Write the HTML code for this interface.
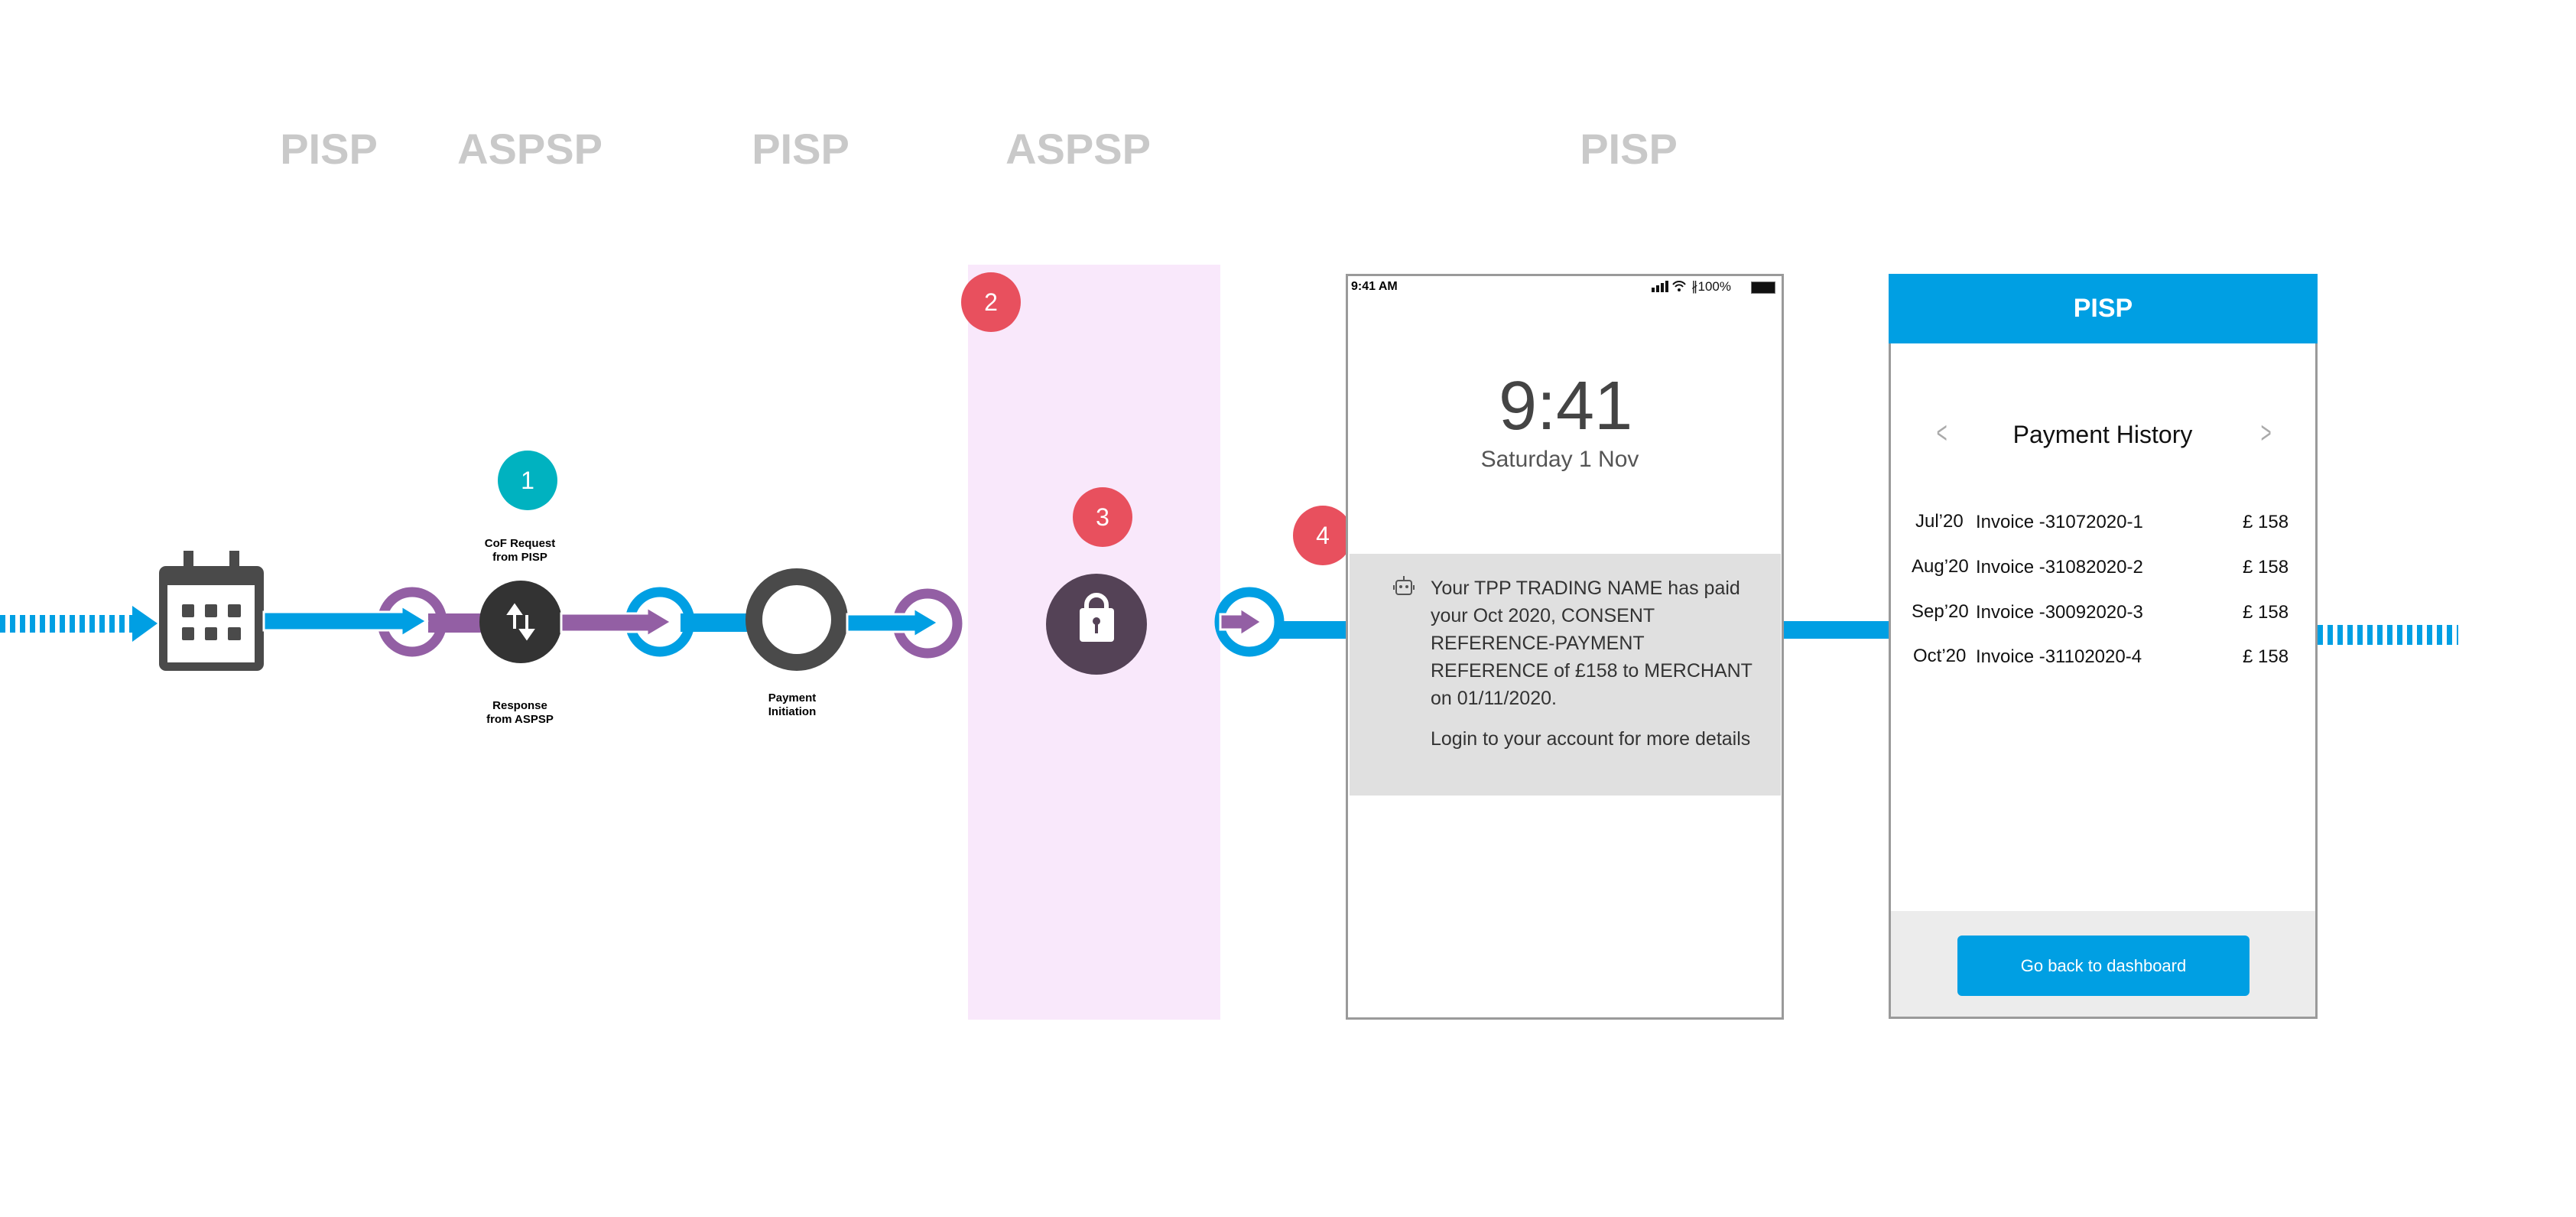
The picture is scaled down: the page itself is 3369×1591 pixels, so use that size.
<!DOCTYPE html>
<html><head><meta charset="utf-8"><style>
body{margin:0;width:3369px;height:1591px;background:#fff;position:relative;overflow:hidden;font-family:"Liberation Sans",sans-serif}
.a{position:absolute}
.hd{position:absolute;top:162px;font-size:56px;font-weight:bold;color:#c9c9c9;transform:translateX(-50%)}
.lbl{position:absolute;font-size:15px;font-weight:bold;text-align:center;line-height:18px;transform:translateX(-50%);color:#000}
.badge{position:absolute;width:78px;height:78px;border-radius:50%;color:#fff;font-size:32px;text-align:center;line-height:78px}
.nt{position:absolute;left:1871px;font-size:25px;color:#333;line-height:36px}
.row{position:absolute;font-size:24px;color:#111}
</style></head><body>
<div class="hd" style="left:430px">PISP</div>
<div class="hd" style="left:693px">ASPSP</div>
<div class="hd" style="left:1047px">PISP</div>
<div class="hd" style="left:1410px">ASPSP</div>
<div class="hd" style="left:2130px">PISP</div>

<div class="a" style="left:1266px;top:346px;width:330px;height:987px;background:#f9e8fb"></div>

<div class="badge" style="left:651px;top:589px;background:#00b2c0">1</div>
<div class="badge" style="left:1257px;top:356px;background:#e8505e">2</div>
<div class="badge" style="left:1403px;top:637px;background:#e8505e">3</div>
<div class="badge" style="left:1691px;top:661px;background:#e8505e">4</div>

<div class="a" style="left:0;top:804px;width:173px;height:23px;background:repeating-linear-gradient(90deg,#009fe3 0 7px,transparent 7px 13px)"></div>
<div class="a" style="left:3031px;top:817px;width:184px;height:26px;background:repeating-linear-gradient(90deg,#009fe3 0 7px,transparent 7px 13px)"></div>

<svg class="a" style="left:0;top:0" width="3369" height="1591">
<polygon points="173,792 206,815 173,839" fill="#009fe3"/>
<rect x="208" y="740" width="137" height="137" rx="9" fill="#4a4a4a"/>
<rect x="219" y="765" width="114" height="101" fill="#fff"/>
<rect x="240" y="720" width="13" height="30" fill="#4a4a4a"/>
<rect x="300" y="720" width="13" height="30" fill="#4a4a4a"/>
<g fill="#4a4a4a"><rect x="238" y="790" width="16" height="17" rx="2"/><rect x="268" y="790" width="16" height="17" rx="2"/><rect x="298" y="790" width="17" height="17" rx="2"/>
<rect x="238" y="820" width="16" height="17" rx="2"/><rect x="268" y="820" width="16" height="17" rx="2"/><rect x="298" y="820" width="17" height="17" rx="2"/></g>
<circle cx="539" cy="813" r="39" fill="#fff" stroke="#935fa4" stroke-width="13"/>
<rect x="560" y="802" width="90" height="25" fill="#935fa4"/>
<polygon points="345,800 525,800 525,792 558,812 525,832 525,824 345,824" fill="#009fe3" stroke="#fff" stroke-width="3"/>
<circle cx="681" cy="813" r="54" fill="#333"/>
<g stroke="#fff" stroke-width="4" fill="#fff"><line x1="673" y1="800" x2="673" y2="822"/><polygon points="666,802 673,792 680,802"/><line x1="689" y1="804" x2="689" y2="826"/><polygon points="682,824 689,834 696,824"/></g>
<circle cx="863" cy="813" r="39" fill="#fff" stroke="#009fe3" stroke-width="13"/>
<rect x="890" y="802" width="100" height="24" fill="#009fe3"/>
<polygon points="734,802 846,802 846,794 878,813 846,832 846,826 734,826" fill="#935fa4" stroke="#fff" stroke-width="3"/>
<circle cx="1042" cy="810" r="56" fill="#fff" stroke="#4a4a4a" stroke-width="22"/>
<circle cx="1213" cy="815" r="39" fill="#fff" stroke="#935fa4" stroke-width="13"/>
<polygon points="1108,803 1195,803 1195,795 1227,814 1195,833 1195,826 1108,826" fill="#009fe3" stroke="#fff" stroke-width="3"/>
<circle cx="1434" cy="816" r="66" fill="#544256"/>
<path d="M1421,797 v-6 a13,13 0 0 1 26,0 v6" fill="none" stroke="#fff" stroke-width="6"/>
<rect x="1412" y="795" width="45" height="44" rx="4" fill="#fff"/>
<circle cx="1434" cy="812" r="5" fill="#544256"/><rect x="1432" y="814" width="4" height="14" fill="#544256"/>
<circle cx="1634" cy="813" r="39" fill="#fff" stroke="#009fe3" stroke-width="13"/>
<rect x="1667" y="812" width="95" height="23" fill="#009fe3"/>
<polygon points="1596,803 1622,803 1622,795 1650,813 1622,831 1622,823 1596,823" fill="#935fa4" stroke="#fff" stroke-width="3"/>
<rect x="2333" y="812" width="137" height="23" fill="#009fe3"/>
</svg>

<div class="lbl" style="left:680px;top:702px">CoF Request<br>from PISP</div>
<div class="lbl" style="left:680px;top:914px">Response<br>from ASPSP</div>
<div class="lbl" style="left:1036px;top:904px">Payment<br>Initiation</div>

<!-- phone 1 -->
<div class="a" style="left:1760px;top:358px;width:573px;height:975px;border:3px solid #9a9a9a;box-sizing:border-box;background:#fff"></div>
<div class="a" style="left:1767px;top:366px;font-size:16px;font-weight:bold">9:41 AM</div>
<svg class="a" style="left:2160px;top:366px" width="50" height="18"><rect x="0" y="10" width="4" height="6" fill="#111"/><rect x="6" y="7" width="4" height="9" fill="#111"/><rect x="12" y="4" width="4" height="12" fill="#111"/><rect x="18" y="1" width="4" height="15" fill="#111"/><path d="M28,6 a10,10 0 0 1 16,0 M31,9 a6,6 0 0 1 10,0" stroke="#111" stroke-width="2" fill="none"/><circle cx="36" cy="13" r="2" fill="#111"/></svg>
<div class="a" style="left:2212px;top:365px;font-size:17px;color:#111">∦100%</div>
<div class="a" style="left:2290px;top:368px;width:30px;height:14px;background:#111;border:1px solid #777"></div>
<div class="a" style="left:1960px;top:480px;width:160px;text-align:center;font-size:90px;color:#444">9:41</div>
<div class="a" style="left:1900px;top:584px;width:280px;text-align:center;font-size:30px;color:#555">Saturday 1 Nov</div>
<div class="a" style="left:1765px;top:724px;width:564px;height:316px;background:#e0e0e0"></div>
<svg class="a" style="left:1822px;top:752px" width="28" height="30"><rect x="4" y="7" width="20" height="18" rx="3" fill="none" stroke="#555" stroke-width="2"/><circle cx="10" cy="15" r="2" fill="#555"/><circle cx="18" cy="15" r="2" fill="#555"/><line x1="14" y1="1" x2="14" y2="7" stroke="#555" stroke-width="2"/><line x1="1" y1="13" x2="1" y2="19" stroke="#555" stroke-width="2"/><line x1="27" y1="13" x2="27" y2="19" stroke="#555" stroke-width="2"/></svg>
<div class="nt" style="top:751px">Your TPP TRADING NAME has paid<br>your Oct 2020, CONSENT<br>REFERENCE-PAYMENT<br>REFERENCE of £158 to MERCHANT<br>on 01/11/2020.</div>
<div class="nt" style="top:948px">Login to your account for more details</div>

<!-- phone 2 -->
<div class="a" style="left:2470px;top:358px;width:561px;height:974px;border:3px solid #9a9a9a;box-sizing:border-box;background:#fff"></div>
<div class="a" style="left:2470px;top:358px;width:561px;height:91px;background:#009fe3;color:#fff;font-size:34px;font-weight:bold;text-align:center;line-height:91px">PISP</div>
<div class="a" style="left:2473px;top:1191px;width:555px;height:138px;background:#ececec"></div>
<div class="a" style="left:2560px;top:1223px;width:382px;height:79px;border-radius:6px;background:#009fe3;color:#fff;font-size:22px;text-align:center;line-height:79px">Go back to dashboard</div>
<div class="a" style="left:2545px;top:550px;width:410px;text-align:center;font-size:32px;color:#111">Payment History</div>
<div class="a" style="left:2528px;top:544px;font-size:40px;color:#aaa;transform:scaleX(.6)">&lt;</div>
<div class="a" style="left:2952px;top:544px;font-size:40px;color:#aaa;transform:scaleX(.6)">&gt;</div>
<div class="row" style="left:2505px;top:668px">Jul’20</div><div class="row" style="left:2584px;top:669px">Invoice -31072020-1</div><div class="row" style="left:2933px;top:669px">£ 158</div>
<div class="row" style="left:2500px;top:727px">Aug’20</div><div class="row" style="left:2584px;top:728px">Invoice -31082020-2</div><div class="row" style="left:2933px;top:728px">£ 158</div>
<div class="row" style="left:2500px;top:786px">Sep’20</div><div class="row" style="left:2584px;top:787px">Invoice -30092020-3</div><div class="row" style="left:2933px;top:787px">£ 158</div>
<div class="row" style="left:2502px;top:844px">Oct’20</div><div class="row" style="left:2584px;top:845px">Invoice -31102020-4</div><div class="row" style="left:2933px;top:845px">£ 158</div>
</body></html>
